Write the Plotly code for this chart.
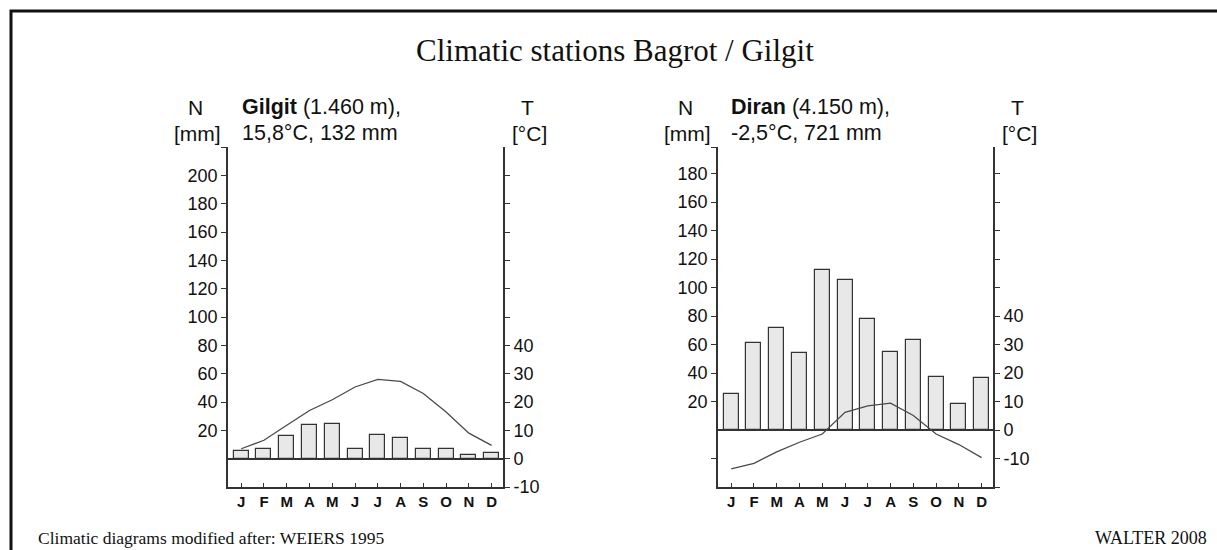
import plotly.graph_objects as go

W, H = 1217, 550

months = ["J", "F", "M", "A", "M", "J", "J", "A", "S", "O", "N", "D"]
month_idx = list(range(12))

gilgit_precip = [5.2, 7, 15.8, 23.5, 24.7, 6.6, 16.5, 14.8, 6.6, 7, 2.8, 4.2]
gilgit_temp = [3.5, 6.5, 11.8, 17, 20.8, 25.3, 28, 27.3, 23, 16.5, 9, 4.7]

diran_precip = [25, 61, 71.4, 54, 112, 105, 78, 54.5, 63.5, 37.5, 18.2, 36.5]
diran_temp = [-13.6, -11.7, -7.7, -4.3, -1.4, 6.2, 8.5, 9.4, 5.1, -1.4, -5.1, -9.7]

title_text = "Climatic stations Bagrot / Gilgit"
source_left = "Climatic diagrams modified after: WEIERS 1995"
source_right = "WALTER 2008"

SANS = "Liberation Sans, Arial, sans-serif"
SERIF = "Liberation Serif, Times New Roman, serif"
AX = "#333333"
TXT = "#111111"


def px(x):
    return x / W


def py(y):
    return 1 - y / H


fig = go.Figure()

# Gilgit
fig.add_trace(go.Bar(x=month_idx, y=gilgit_precip, width=0.66,
                     marker=dict(color="#e8e8e8", line=dict(color=AX, width=1.2)),
                     xaxis="x", yaxis="y", showlegend=False))
fig.add_trace(go.Scatter(x=month_idx, y=gilgit_temp, mode="lines",
                         line=dict(color="#4a4a4a", width=1.3),
                         xaxis="x", yaxis="y2", showlegend=False))
# Diran
fig.add_trace(go.Bar(x=month_idx, y=diran_precip, width=0.66,
                     marker=dict(color="#e8e8e8", line=dict(color=AX, width=1.2)),
                     xaxis="x2", yaxis="y3", showlegend=False))
fig.add_trace(go.Scatter(x=month_idx, y=diran_temp, mode="lines",
                         line=dict(color="#4a4a4a", width=1.3),
                         xaxis="x2", yaxis="y4", showlegend=False))

xcommon = dict(range=[-0.58, 11.5], tickvals=month_idx, ticktext=months,
               ticks="inside", ticklen=4, tickcolor=AX, tickwidth=1.2,
               showline=True, linecolor=AX, linewidth=2, showgrid=False,
               zeroline=False, fixedrange=True, automargin=False,
               tickfont=dict(family=SANS, size=15, color=TXT, weight="bold"))

ycommon = dict(showline=True, linecolor=AX, linewidth=1.6, showgrid=False,
               tickcolor=AX, tickwidth=1.2, ticklen=5, ticks="outside",
               automargin=False,
               tickfont=dict(family=SANS, size=18, color=TXT))

# Left chart axes
g_top_mm = 220
g_bot_mm = -20
g_left_vals = [20, 40, 60, 80, 100, 120, 140, 160, 180, 200, 219.9]
g_left_text = [str(v) for v in g_left_vals[:-1]] + [""]
g_right_vals = [-10, 0, 10, 20, 30, 40, 50, 60, 70, 80, 90, 100]
g_right_text = [str(v) if v <= 40 else "" for v in g_right_vals]

# Right chart axes
d_top_mm = 198.6
d_bot_mm = -40
d_left_vals = [-20, 20, 40, 60, 80, 100, 120, 140, 160, 180, 198.5]
d_left_text = ["" if (v < 0 or v > 190) else str(v) for v in d_left_vals]
d_right_vals = [-20, -10, 0, 10, 20, 30, 40, 50, 60, 70, 80, 90]
d_right_text = [str(v) if -10 <= v <= 40 else "" for v in d_right_vals]

ybot, ytop = 487, 147

fig.update_layout(
    width=W, height=H,
    margin=dict(l=0, r=0, t=0, b=0),
    paper_bgcolor="white", plot_bgcolor="white",
    bargap=0,
    xaxis=dict(domain=[px(228), px(503)], anchor="y", **xcommon),
    yaxis=dict(domain=[py(ybot), py(ytop)], anchor="x", range=[g_bot_mm, g_top_mm],
               tickvals=g_left_vals, ticktext=g_left_text,
               zeroline=True, zerolinecolor=AX, zerolinewidth=1.6, **ycommon),
    yaxis2=dict(overlaying="y", side="right", anchor="x",
                range=[g_bot_mm / 2, g_top_mm / 2],
                tickvals=g_right_vals, ticktext=g_right_text,
                zeroline=False, **ycommon),
    xaxis2=dict(domain=[px(718), px(993)], anchor="y3", **xcommon),
    yaxis3=dict(domain=[py(ybot), py(ytop)], anchor="x2", range=[d_bot_mm, d_top_mm],
                tickvals=d_left_vals, ticktext=d_left_text,
                zeroline=True, zerolinecolor=AX, zerolinewidth=1.6, **ycommon),
    yaxis4=dict(overlaying="y3", side="right", anchor="x2",
                range=[d_bot_mm / 2, d_top_mm / 2],
                tickvals=d_right_vals, ticktext=d_right_text,
                zeroline=False, **ycommon),
)

ann = []


def add_text(x, y, text, size, family=SANS, xanchor="left"):
    ann.append(dict(x=px(x), y=py(y), xref="paper", yref="paper", text=text,
                    showarrow=False, xanchor=xanchor, yanchor="middle",
                    font=dict(family=family, size=size, color=TXT)))


add_text(615, 50, title_text, 31, SERIF, "center")
add_text(36, 538, source_left, 17.5, SERIF, "left")
add_text(1209, 538, source_right, 18, SERIF, "right")

# Gilgit headers
add_text(195, 107, "N", 21, SANS, "center")
add_text(197, 133, "[mm]", 21, SANS, "center")
add_text(240, 107, "<b>Gilgit</b> (1.460 m),", 21.5)
add_text(240, 133, "15,8°C, 132 mm", 21.5)
add_text(527, 107, "T", 21, SANS, "center")
add_text(529, 133, "[°C]", 21, SANS, "center")

# Diran headers
add_text(685, 107, "N", 21, SANS, "center")
add_text(687, 133, "[mm]", 21, SANS, "center")
add_text(729, 107, "<b>Diran</b> (4.150 m),", 21.5)
add_text(729, 133, "-2,5°C, 721 mm", 21.5)
add_text(1017, 107, "T", 21, SANS, "center")
add_text(1019, 133, "[°C]", 21, SANS, "center")

fig.update_layout(annotations=ann)

# outer frame (top and left edges visible)
fig.add_shape(type="rect", xref="paper", yref="paper",
              x0=px(11), x1=1.05, y0=-0.05, y1=py(11),
              line=dict(color="#111111", width=3), fillcolor="rgba(0,0,0,0)")

fig.write_html("out.html")
